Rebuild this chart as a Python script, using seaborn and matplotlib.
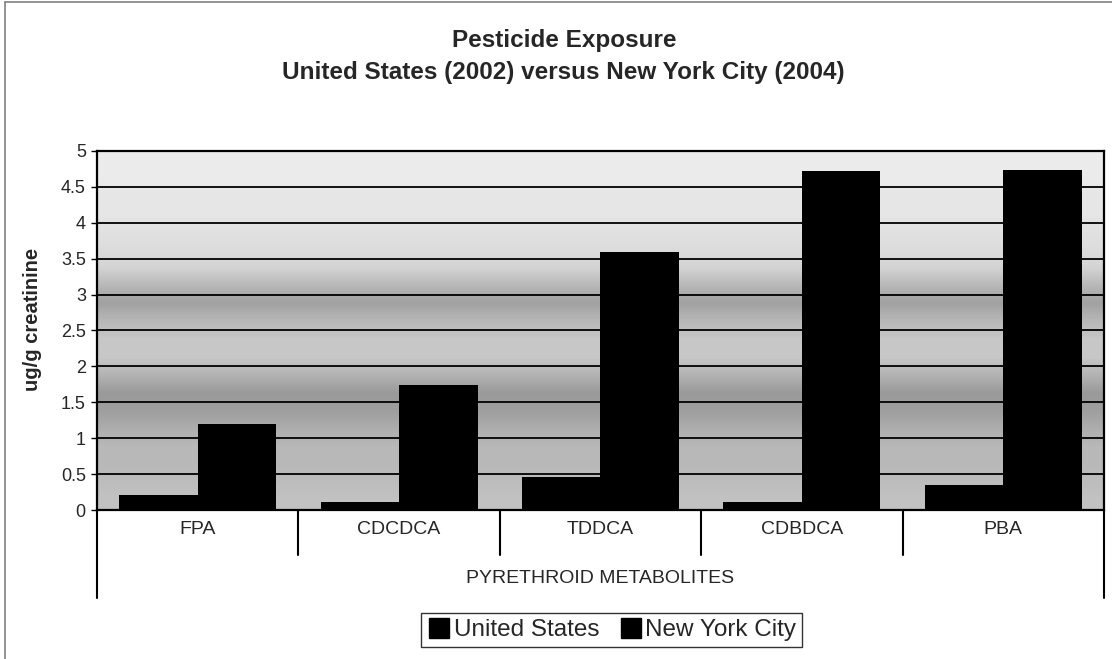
import numpy as np
import pandas as pd
import matplotlib
matplotlib.use("Agg")
import matplotlib.pyplot as plt
import matplotlib.transforms as mtransforms
from matplotlib.lines import Line2D
import seaborn as sns

# values (ug/g creatinine)
metabolites = ["FPA", "CDCDCA", "TDDCA", "CDBDCA", "PBA"]
us_2002 = [0.21, 0.11, 0.46, 0.11, 0.35]
nyc_2004 = [1.20, 1.74, 3.60, 4.72, 4.73]
series = ["United States", "New York City"]
y_ticks = [0, 0.5, 1, 1.5, 2, 2.5, 3, 3.5, 4, 4.5, 5]

df = pd.DataFrame({
    "metabolite": metabolites * 2,
    "value": us_2002 + nyc_2004,
    "series": [series[0]] * len(metabolites) + [series[1]] * len(metabolites),
})

sns.set_style("white")
plt.rcParams["font.family"] = ["Liberation Sans", "DejaVu Sans"]

fig = plt.figure(figsize=(11.12, 6.59), dpi=100)
ax = fig.add_axes([0.0872, 0.2261, 0.9056, 0.5448])

# scanned-looking grey background with darker bands (bottom to top, 0.25 steps)
shade = np.array([0.76, 0.74, 0.72, 0.72, 0.68, 0.62, 0.60, 0.70, 0.78, 0.78,
                  0.72, 0.63, 0.72, 0.83, 0.86, 0.88, 0.90, 0.90, 0.92, 0.92]).reshape(-1, 1)
ax.imshow(shade, cmap="gray", vmin=0, vmax=1, extent=[-0.5, 4.5, 0, 5],
          origin="lower", aspect="auto", interpolation="bilinear", zorder=0)

sns.barplot(data=df, x="metabolite", y="value", hue="series", order=metabolites,
            palette=["black", "black"], width=0.78, saturation=1, ax=ax,
            edgecolor="none", legend=False, zorder=2)

ax.set_xlim(-0.5, 4.5)
ax.set_ylim(0, 5)
ax.set_yticks(y_ticks)
ax.set_yticklabels([f"{t:g}" for t in y_ticks], fontsize=13)
ax.yaxis.grid(True, color="black", linewidth=1.3)
ax.set_axisbelow(True)
ax.tick_params(axis="y", direction="out", length=4, width=1, color="black", pad=4, left=True)
ax.tick_params(axis="x", length=0)
ax.set_xticks([])
ax.set_xlabel("")
ax.set_ylabel("ug/g creatinine", fontsize=14.5, fontweight="bold")
ax.yaxis.set_label_coords(-0.055, 0.53)
for sp in ax.spines.values():
    sp.set_color("black")
    sp.set_linewidth(1.6)

# multi-level category axis
trans = mtransforms.blended_transform_factory(ax.transData, ax.transAxes)
for i in range(len(metabolites) + 1):
    x = i - 0.5
    low = -0.245 if i in (0, len(metabolites)) else -0.125
    ax.plot([x, x], [0, low], color="black", lw=1.5, transform=trans, clip_on=False)
for i, name in enumerate(metabolites):
    ax.text(i, -0.055, name, transform=trans, ha="center", va="center", fontsize=14)
ax.text(2, -0.19, "PYRETHROID METABOLITES", transform=trans, ha="center", va="center", fontsize=14)

fig.text(0.507, 0.938, "Pesticide Exposure", ha="center", va="center", fontsize=17.5, fontweight="bold")
fig.text(0.507, 0.890, "United States (2002) versus New York City (2004)", ha="center", va="center",
         fontsize=17.5, fontweight="bold")

handles = [Line2D([], [], marker="s", linestyle="none", markersize=14, color="black") for _ in series]
leg = fig.legend(handles, series, loc="center", bbox_to_anchor=(0.55, 0.044), ncol=2, fontsize=17.5,
                 frameon=True, fancybox=False, edgecolor="black", handletextpad=0.1,
                 columnspacing=0.8, borderpad=0.25, handlelength=1.0)
leg.get_frame().set_linewidth(1.0)

# outer chart frame (top and left edges visible in the scan)
fig.add_artist(Line2D([0.0045, 0.0045], [0.0, 0.997], color="gray", lw=1.2))
fig.add_artist(Line2D([0.0045, 1.0], [0.997, 0.997], color="gray", lw=1.2))

fig.savefig("out.png", dpi=100)
